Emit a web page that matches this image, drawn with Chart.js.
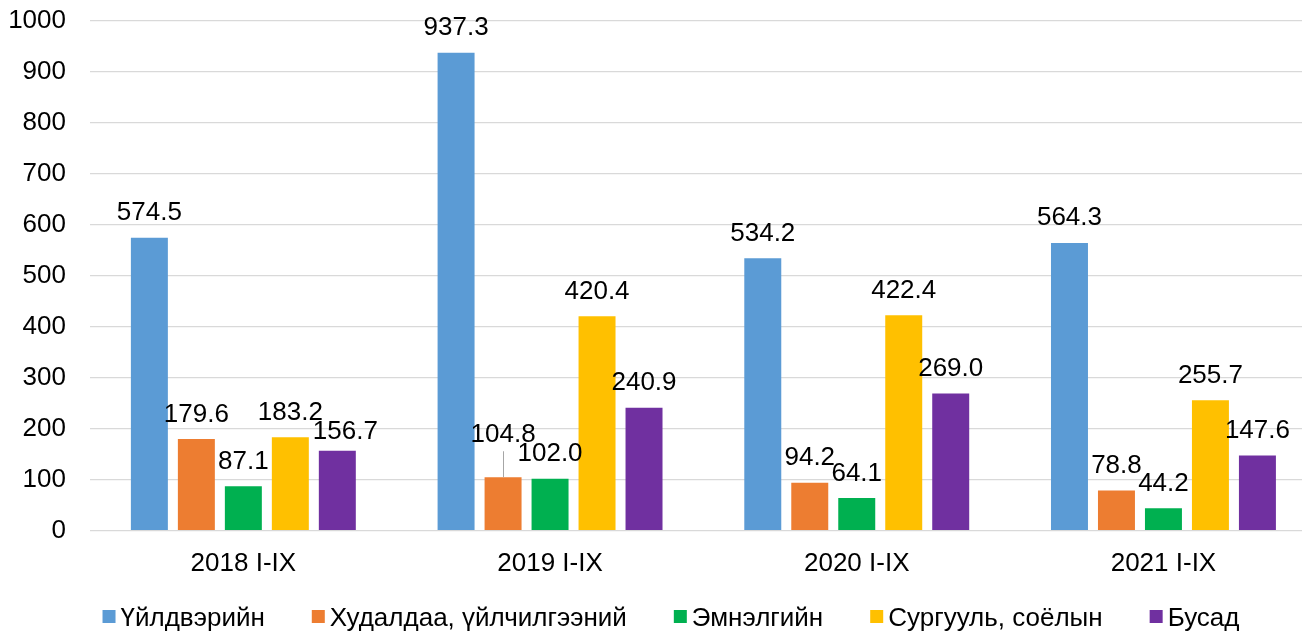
<!DOCTYPE html>
<html>
<head>
<meta charset="utf-8">
<script src="https://cdn.jsdelivr.net/npm/chart.js@4.4.0/dist/chart.umd.min.js"></script>
<style>
  html, body { margin: 0; padding: 0; overflow: hidden; background: #fff; }
</style>
</head>
<body>
<canvas id="myChart" width="1318" height="631"></canvas>
<script>
// categories and series
var categories = ["2018 I-IX", "2019 I-IX", "2020 I-IX", "2021 I-IX"];
var seriesNames = ["Үйлдвэрийн", "Худалдаа, үйлчилгээний", "Эмнэлгийн", "Сургууль, соёлын", "Бусад"];
var industry = [574.5, 937.3, 534.2, 564.3];
var trade = [179.6, 104.8, 94.2, 78.8];
var hospital = [87.1, 102.0, 64.1, 44.2];
var school = [183.2, 420.4, 422.4, 255.7];
var other = [156.7, 240.9, 269.0, 147.6];
var yTicks = [0, 100, 200, 300, 400, 500, 600, 700, 800, 900, 1000];

var barColors = ["#5B9BD5", "#ED7D31", "#00B050", "#FFC000", "#7030A0"];
var FONT = "'Liberation Sans', Arial, sans-serif";
var FS = 26;

// label nudges (dataset-index) where the original moved a label off its bar
var labelNudge = {
  "4-0": { dx: 8, dy: 6 },
  "1-1": { dx: 0, dy: -18, leader: true }
};

var valueLabels = {
  id: "valueLabels",
  afterDatasetsDraw: function(chart) {
    var ctx = chart.ctx;
    ctx.save();
    ctx.font = FS + "px " + FONT;
    ctx.fillStyle = "#000";
    ctx.textAlign = "center";
    ctx.textBaseline = "alphabetic";
    chart.data.datasets.forEach(function(ds, di) {
      var meta = chart.getDatasetMeta(di);
      meta.data.forEach(function(bar, i) {
        var n = labelNudge[di + "-" + i] || { dx: 0, dy: 0 };
        var y = bar.y - 17.5 + n.dy;
        if (n.leader) {
          ctx.strokeStyle = "#a6a6a6";
          ctx.lineWidth = 1;
          ctx.beginPath();
          ctx.moveTo(Math.round(bar.x) + 0.5, y + 9.5);
          ctx.lineTo(Math.round(bar.x) + 0.5, bar.y);
          ctx.stroke();
        }
        ctx.fillText(ds.data[i].toFixed(1), bar.x + n.dx, y);
      });
    });
    ctx.restore();
  }
};

// legend drawn by hand so the marker/text spacing matches
var bottomLegend = {
  id: "bottomLegend",
  afterDraw: function(chart) {
    var ctx = chart.ctx;
    ctx.save();
    ctx.font = FS + "px " + FONT;
    var box = 13, gap = 5, spacing = 47;
    var widths = chart.data.datasets.map(function(ds) {
      return box + gap + ctx.measureText(ds.label).width;
    });
    var total = widths.reduce(function(a, b) { return a + b; }, 0) + spacing * (widths.length - 1);
    var x = 671 - total / 2;
    var baseY = 626;
    ctx.textBaseline = "alphabetic";
    ctx.textAlign = "left";
    chart.data.datasets.forEach(function(ds, i) {
      ctx.fillStyle = ds.backgroundColor;
      ctx.fillRect(x, 610, box, box);
      ctx.fillStyle = "#000";
      ctx.fillText(ds.label, x + box + gap, baseY);
      x += widths[i] + spacing;
    });
    ctx.restore();
  }
};

var seriesData = [industry, trade, hospital, school, other];

new Chart("myChart", {
  type: "bar",
  data: {
    labels: categories,
    datasets: seriesData.map(function(d, i) {
      return {
        label: seriesNames[i],
        data: d,
        backgroundColor: barColors[i],
        borderWidth: 0,
        categoryPercentage: 0.766,
        barPercentage: 0.787
      };
    })
  },
  options: {
    responsive: false,
    animation: false,
    layout: { padding: { top: 20.7, right: 1.2, left: 0, bottom: 0 } },
    plugins: {
      legend: { display: false },
      tooltip: { enabled: false }
    },
    scales: {
      x: {
        grid: { display: false },
        border: { display: false },
        ticks: { color: "#000", font: { family: FONT, size: FS }, padding: 10, maxRotation: 0 },
        afterFit: function(scale) { scale.height = 100.3; }
      },
      y: {
        min: 0,
        max: 1000,
        afterBuildTicks: function(scale) {
          scale.ticks = yTicks.map(function(v) { return { value: v }; });
        },
        grid: { color: "#d9d9d9", lineWidth: 1.3, drawTicks: false },
        border: { display: false },
        ticks: {
          color: "#000",
          font: { family: FONT, size: FS },
          padding: 24,
          callback: function(v) { return String(v); }
        },
        afterFit: function(scale) {
          scale.width = 90;
          scale.paddingTop = 0;
          scale.paddingBottom = 0;
        }
      }
    }
  },
  plugins: [valueLabels, bottomLegend]
});
</script>
</body>
</html>
